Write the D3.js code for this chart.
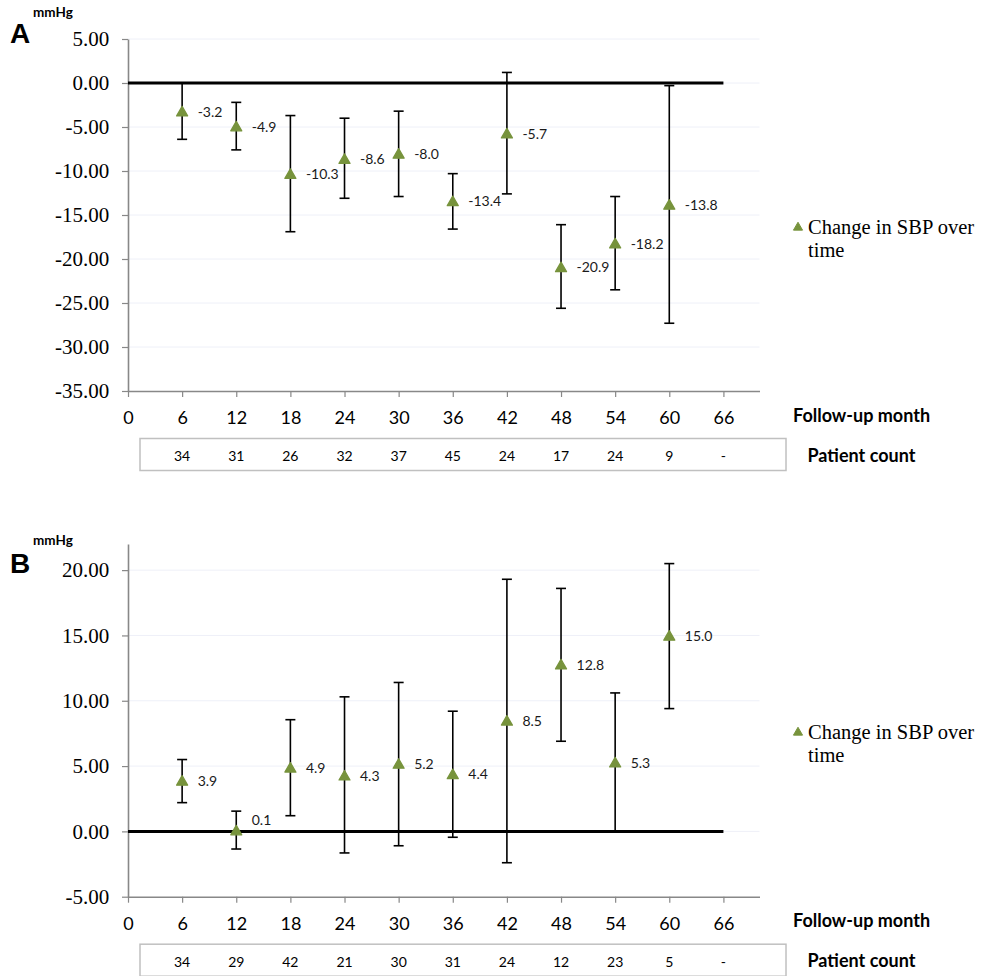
<!DOCTYPE html>
<html>
<head>
<meta charset="utf-8">
<script src="https://cdn.jsdelivr.net/npm/d3@7"></script>
<style>
  html, body { margin: 0; padding: 0; background: #fff; }
  svg { display: block; }
</style>
</head>
<body>
<svg id="chart" width="984" height="976"></svg>
<script>
// ---------------- data ----------------
const months = [6, 12, 18, 24, 30, 36, 42, 48, 54, 60];
const xTicks = [0, 6, 12, 18, 24, 30, 36, 42, 48, 54, 60, 66];
const countMonths = [6, 12, 18, 24, 30, 36, 42, 48, 54, 60, 66];

// Panel A
const meanA  = [-3.2, -4.9, -10.3, -8.6, -8.0, -13.4, -5.7, -20.9, -18.2, -13.8];
const upperA = [0.0, -2.2, -3.7, -4.0, -3.2, -10.3, 1.2, -16.1, -12.9, -0.3];
const lowerA = [-6.4, -7.6, -16.9, -13.1, -12.9, -16.6, -12.6, -25.6, -23.5, -27.3];
const countA = ["34", "31", "26", "32", "37", "45", "24", "17", "24", "9", "-"];
const yTicksA = [5, 0, -5, -10, -15, -20, -25, -30, -35];
const yDomainA = [-35, 5];

// Panel B
const meanB  = [3.9, 0.1, 4.9, 4.3, 5.2, 4.4, 8.5, 12.8, 5.3, 15.0];
const upperB = [5.5, 1.55, 8.55, 10.3, 11.4, 9.2, 19.3, 18.6, 10.6, 20.5];
const lowerB = [2.2, -1.35, 1.2, -1.65, -1.1, -0.45, -2.4, 6.9, 0.0, 9.4];
const countB = ["34", "29", "42", "21", "30", "31", "24", "12", "23", "5", "-"];
const yTicksB = [20, 15, 10, 5, 0, -5];
const yDomainB = [-5, 22];

const seriesName = ["Change in SBP over", "time"];
const xTitle = "Follow-up month";
const countTitle = "Patient count";
const unitLabel = "mmHg";

// ---------------- drawing ----------------
const svg = d3.select("#chart");
const loc = d3.formatLocale({decimal: ".", thousands: ",", grouping: [3], currency: ["", ""], minus: "-"});
const fmt2 = loc.format(".2f");
const fmt1 = loc.format(".1f");

const GREEN = "#77933c";
const x = d3.scaleLinear().domain([0, 70]).range([128, 759.5]);
const tri = d3.symbol().type(d3.symbolTriangle).size(52);
const triR = Math.sqrt(52 / (3 * Math.sqrt(3)));

function panel(opts) {
  const {letter, top, bottom, yDomain, yTicks, mean, upper, lower, counts, legendY} = opts;
  const y = d3.scaleLinear().domain(yDomain).range([bottom, top]);
  const g = svg.append("g");

  // panel letter + unit
  g.append("text").attr("x", 10).attr("y", opts.letterY)
    .attr("font-family", "Liberation Sans, Arial, sans-serif").attr("font-weight", "bold")
    .attr("font-size", 28).attr("fill", "#000").text(letter);
  g.append("text").attr("x", 33).attr("y", opts.unitY)
    .attr("font-family", "Lato, sans-serif").attr("font-weight", "bold")
    .attr("font-size", 13.5).attr("fill", "#000").text(unitLabel);

  // gridlines
  g.append("g").selectAll("line")
    .data(yTicks.filter(v => v !== yDomain[0]))
    .join("line")
    .attr("x1", x(0)).attr("x2", x(70))
    .attr("y1", d => y(d)).attr("y2", d => y(d))
    .attr("stroke", "#eef0f8").attr("stroke-width", 1);

  // y axis
  const yAxis = g.append("g").attr("transform", `translate(${x(0)},0)`)
    .call(d3.axisLeft(y).tickValues(yTicks).tickFormat(fmt2).tickSizeInner(6).tickSizeOuter(0).tickPadding(12.7));
  yAxis.select(".domain").attr("stroke", "#888").attr("stroke-width", 1.6);
  yAxis.selectAll(".tick line").attr("stroke", "#888").attr("stroke-width", 1.2);
  yAxis.selectAll(".tick text")
    .attr("font-family", "Liberation Serif, Times New Roman, serif")
    .attr("font-size", 21).attr("fill", "#000");

  // x axis
  const xAxis = g.append("g").attr("transform", `translate(0,${bottom})`)
    .call(d3.axisBottom(x).tickValues(xTicks).tickSizeInner(6).tickSizeOuter(0));
  xAxis.select(".domain").attr("stroke", "#888").attr("stroke-width", 1.6);
  xAxis.selectAll(".tick line").attr("stroke", "#888").attr("stroke-width", 1.2);
  xAxis.selectAll(".tick text")
    .attr("dy", null).attr("y", 33)
    .attr("font-family", "Lato, sans-serif").attr("font-size", 18).attr("fill", "#000");

  g.append("text").attr("x", 793).attr("y", bottom + 30.7)
    .attr("font-family", "Lato, sans-serif").attr("font-weight", "bold")
    .attr("font-size", 18).attr("fill", "#000").text(xTitle);

  // zero line
  g.append("line")
    .attr("x1", x(0)).attr("x2", x(66))
    .attr("y1", y(0)).attr("y2", y(0))
    .attr("stroke", "#000").attr("stroke-width", 3);

  // error bars
  const eb = g.append("g").attr("stroke", "#000").attr("stroke-width", 1.6);
  months.forEach((m, i) => {
    const cx = x(m);
    eb.append("line").attr("x1", cx).attr("x2", cx).attr("y1", y(upper[i])).attr("y2", y(lower[i]));
    eb.append("line").attr("x1", cx - 5).attr("x2", cx + 5).attr("y1", y(upper[i])).attr("y2", y(upper[i]));
    eb.append("line").attr("x1", cx - 5).attr("x2", cx + 5).attr("y1", y(lower[i])).attr("y2", y(lower[i]));
  });

  // markers
  g.append("g").selectAll("path")
    .data(months.map((m, i) => ({m, v: mean[i]})))
    .join("path")
    .attr("d", tri)
    .attr("transform", d => `translate(${x(d.m)},${y(d.v) + triR / 2})`)
    .attr("fill", GREEN).attr("stroke", GREEN).attr("stroke-width", 1.3).attr("stroke-linejoin", "round");

  // data labels (lifted above the zero line when they would sit on it)
  g.append("g").selectAll("text")
    .data(months.map((m, i) => ({m, v: mean[i]})))
    .join("text")
    .attr("x", d => x(d.m) + 15.5)
    .attr("y", d => Math.abs(y(d.v) - y(0)) < 8 ? y(0) - 12 : y(d.v))
    .attr("dominant-baseline", "central")
    .attr("font-family", "Lato, sans-serif").attr("font-size", 14).attr("fill", "#1a1a1a")
    .text(d => fmt1(d.v));

  // patient count box
  const boxTop = bottom + 47.5;
  g.append("rect").attr("x", 140).attr("y", boxTop).attr("width", 646).attr("height", 32)
    .attr("fill", "none").attr("stroke", "#c0c0c0").attr("stroke-width", 1.5);
  g.append("g").selectAll("text")
    .data(countMonths.map((m, i) => ({m, c: counts[i]})))
    .join("text")
    .attr("x", d => x(d.m)).attr("y", bottom + 70)
    .attr("text-anchor", "middle")
    .attr("font-family", "Lato, sans-serif").attr("font-size", 14).attr("fill", "#000")
    .text(d => d.c);
  g.append("text").attr("x", 807.5).attr("y", bottom + 70.7)
    .attr("font-family", "Lato, sans-serif").attr("font-weight", "bold")
    .attr("font-size", 18).attr("fill", "#000").text(countTitle);

  // legend
  g.append("path").attr("d", d3.symbol().type(d3.symbolTriangle).size(36))
    .attr("transform", `translate(798,${legendY})`)
    .attr("fill", GREEN).attr("stroke", GREEN).attr("stroke-width", 1).attr("stroke-linejoin", "round");
  g.append("g").selectAll("text").data(seriesName).join("text")
    .attr("x", 808).attr("y", (d, i) => legendY + 6 + i * 23.4)
    .attr("font-family", "Liberation Serif, Times New Roman, serif")
    .attr("font-size", 20.5).attr("fill", "#000")
    .text(d => d);
}

panel({letter: "A", letterY: 43.3, unitY: 17.3, top: 39, bottom: 391,
  yDomain: yDomainA, yTicks: yTicksA, mean: meanA, upper: upperA, lower: lowerA,
  counts: countA, legendY: 227.5});
panel({letter: "B", letterY: 573.3, unitY: 545, top: 544, bottom: 896.7,
  yDomain: yDomainB, yTicks: yTicksB, mean: meanB, upper: upperB, lower: lowerB,
  counts: countB, legendY: 732.5});
</script>
</body>
</html>
